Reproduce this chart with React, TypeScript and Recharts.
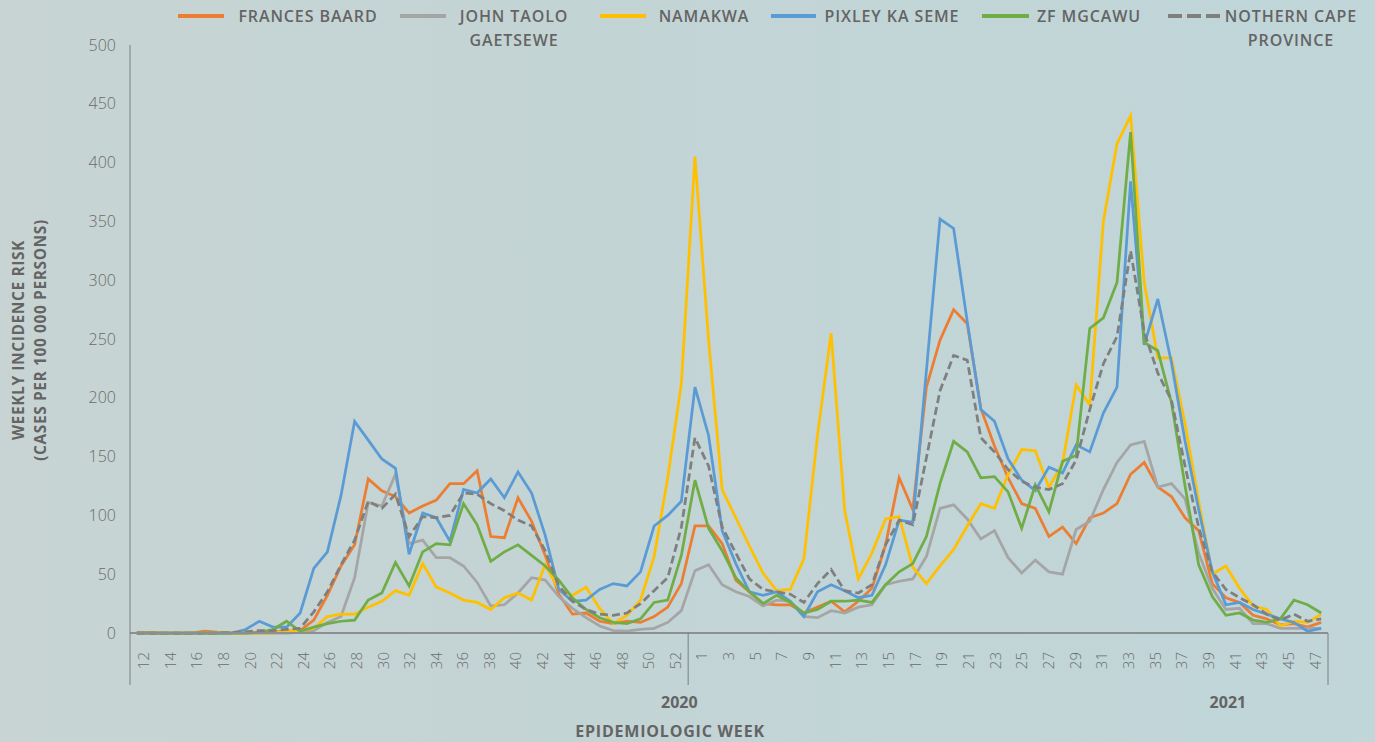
import React from 'react';
import { LineChart, Line, XAxis, YAxis } from 'recharts';

// ---- categories (epidemiologic weeks) ----
const WEEKS_2020 = [12, 13, 14, 15, 16, 17, 18, 19, 20, 21, 22, 23, 24, 25, 26, 27, 28, 29, 30, 31, 32, 33, 34, 35, 36, 37, 38, 39, 40, 41, 42, 43, 44, 45, 46, 47, 48, 49, 50, 51, 52];
const WEEKS_2021 = [1, 2, 3, 4, 5, 6, 7, 8, 9, 10, 11, 12, 13, 14, 15, 16, 17, 18, 19, 20, 21, 22, 23, 24, 25, 26, 27, 28, 29, 30, 31, 32, 33, 34, 35, 36, 37, 38, 39, 40, 41, 42, 43, 44, 45, 46, 47];
const YEAR_LABELS = ['2020', '2021'];
const Y_TICKS = [0, 50, 100, 150, 200, 250, 300, 350, 400, 450, 500];

// ---- series values (weekly incidence risk per 100 000) ----
const FRANCES_BAARD_2020 = [0.5, 0.5, 0, 0, 0, 1.5, 0.5, 0, 0, 0.5, 1, 1.5, 2, 11, 32, 57, 75, 131, 121, 116, 102, 108, 113, 127, 127, 138, 82, 81, 115, 95, 66, 33, 16, 17, 10, 8, 10, 9, 14, 22, 42];
const FRANCES_BAARD_2021 = [91, 91, 76, 45, 35, 25, 24, 24, 17, 22, 27, 18, 27, 38, 75, 132, 105, 209, 249, 275, 263, 191, 159, 132, 110, 106, 82, 90, 76, 98, 102, 110, 135, 145, 124, 116, 98, 87, 42, 30, 26, 15, 12, 7, 8, 5, 9];

const JOHN_TAOLO_2020 = [0, 0, 0, 0, 0, 0, 0, 0, 0, 0, 0, 0, 0.5, 2, 9, 14, 47, 111, 108, 135, 76, 79, 64, 64, 57, 43, 23, 24, 34, 47, 45, 31, 21, 13, 6, 2, 1.5, 3, 4, 9, 19];
const JOHN_TAOLO_2021 = [53, 58, 41, 35, 31, 23, 28, 27, 14, 13, 19, 17, 22, 24, 41, 44, 46, 65, 106, 109, 97, 80, 87, 64, 51, 62, 52, 50, 88, 95, 122, 145, 160, 163, 124, 127, 114, 68, 38, 20, 21, 8, 8, 4, 4, 4, 4];

const NAMAKWA_2020 = [0, 0, 0, 0, 0, 0, 0, 0, 0, 0, 0, 1.5, 1.5, 4, 14, 16, 16, 22, 27, 36, 32, 59, 39, 34, 28, 26, 20, 30, 34, 28, 58, 37, 32, 39, 21, 8, 15, 28, 65, 132, 212];
const NAMAKWA_2021 = [405, 249, 122, 98, 74, 51, 36, 37, 63, 168, 255, 104, 46, 68, 97, 99, 56, 42, 57, 71, 91, 110, 106, 135, 156, 155, 124, 144, 211, 194, 350, 416, 440, 298, 234, 234, 178, 112, 50, 57, 38, 23, 20, 6, 10, 9, 16];

const PIXLEY_2020 = [0, 0, 0, 0, 0, 0, 0, 0, 3, 10, 5, 5, 17, 55, 69, 117, 180, 164, 148, 140, 67, 102, 98, 78, 122, 119, 131, 115, 137, 119, 83, 37, 27, 28, 37, 42, 40, 52, 91, 100, 112];
const PIXLEY_2021 = [209, 168, 87, 59, 35, 32, 35, 27, 14, 35, 41, 36, 30, 32, 58, 96, 94, 223, 352, 344, 265, 190, 180, 148, 130, 121, 141, 136, 160, 154, 187, 209, 384, 245, 284, 230, 163, 105, 52, 24, 26, 20, 16, 12, 9, 1.5, 4];

const ZF_MGCAWU_2020 = [0, 0, 0, 0, 0, 0, 0, 0, 0, 0.5, 3, 10, 1.5, 5, 8, 10, 11, 28, 34, 60, 40, 69, 76, 75, 110, 92, 61, 69, 75, 66, 57, 45, 30, 20, 13, 9, 8, 12, 26, 28, 66];
const ZF_MGCAWU_2021 = [130, 89, 70, 47, 35, 25, 32, 26, 17, 20, 27, 27, 28, 26, 41, 52, 59, 82, 127, 163, 154, 132, 133, 120, 89, 126, 103, 146, 151, 259, 268, 298, 426, 247, 240, 196, 125, 58, 31, 15, 17, 11, 9, 12, 28, 24, 17];

const NORTHERN_CAPE_2020 = [0, 0, 0, 0, 0, 0, 0, 0.5, 1, 2, 2, 3, 4, 18, 35, 58, 79, 112, 106, 118, 82, 99, 98, 100, 119, 118, 110, 104, 96, 91, 70, 40, 27, 20, 16, 15, 17, 25, 36, 47, 90];
const NORTHERN_CAPE_2021 = [166, 142, 90, 68, 46, 37, 35, 33, 26, 42, 54, 36, 34, 41, 75, 96, 92, 149, 206, 236, 232, 166, 154, 139, 129, 124, 122, 127, 147, 190, 229, 252, 325, 256, 221, 198, 142, 90, 52, 37, 30, 24, 16, 11, 16, 10, 12];

const SERIES = [
  { key: 'fb', lines: ['FRANCES BAARD'], color: '#ED7D31', dash: undefined as string | undefined, a: FRANCES_BAARD_2020, b: FRANCES_BAARD_2021 },
  { key: 'jt', lines: ['JOHN TAOLO', 'GAETSEWE'], color: '#A5A5A5', dash: undefined, a: JOHN_TAOLO_2020, b: JOHN_TAOLO_2021 },
  { key: 'nk', lines: ['NAMAKWA'], color: '#FFC000', dash: undefined, a: NAMAKWA_2020, b: NAMAKWA_2021 },
  { key: 'pk', lines: ['PIXLEY KA SEME'], color: '#5B9BD5', dash: undefined, a: PIXLEY_2020, b: PIXLEY_2021 },
  { key: 'zf', lines: ['ZF MGCAWU'], color: '#70AD47', dash: undefined, a: ZF_MGCAWU_2020, b: ZF_MGCAWU_2021 },
  { key: 'nc', lines: ['NOTHERN CAPE', 'PROVINCE'], color: '#7F7F7F', dash: '8 4', a: NORTHERN_CAPE_2020, b: NORTHERN_CAPE_2021 },
];

type Row = { cat: string; week: number; [k: string]: any };
const DATA: Row[] = [
  ...WEEKS_2020.map((w, j) => {
    const r: Row = { cat: `2020-${w}`, week: w };
    SERIES.forEach((s) => (r[s.key] = s.a[j]));
    return r;
  }),
  ...WEEKS_2021.map((w, j) => {
    const r: Row = { cat: `2021-${w}`, week: w };
    SERIES.forEach((s) => (r[s.key] = s.b[j]));
    return r;
  }),
];

// ---- layout ----
const W = 1375;
const H = 742;
const M_TOP = 45;
const M_RIGHT = 47;
const Y_AXIS_W = 130;
const X_AXIS_H = 109;
const PLOT_W = W - M_RIGHT - Y_AXIS_W;
const N = DATA.length;
const BW = PLOT_W / N;
const AXIS_Y = H - X_AXIS_H;
const TEXT = '#6b6b6b';
const TITLE = '#646464';
const FONT = "'Open Sans', 'Noto Sans', sans-serif";

const WeekTick = (props: any) => {
  const { x, index } = props;
  const n20 = WEEKS_2020.length;
  const first = index < n20;
  const k = first ? index : index - n20;
  const n = first ? n20 : WEEKS_2021.length;
  const groupStart = x - (k + 0.5) * BW;
  const els: any[] = [];
  if (k % 2 === 0) {
    const m = Math.ceil(n / 2);
    const slot = (n * BW) / m;
    const lx = groupStart + (k / 2 + 0.5) * slot;
    const ly = AXIS_Y + 19;
    els.push(
      <text key="t" x={lx} y={ly} transform={`rotate(-90 ${lx} ${ly})`} textAnchor="end" dominantBaseline="central" fontSize={15} fill={TEXT} fontFamily={FONT} fontWeight={300}>
        {DATA[index].week}
      </text>
    );
  }
  const sep = (sx: number, key: string) => (
    <line key={key} x1={sx} x2={sx} y1={AXIS_Y} y2={AXIS_Y + 52} stroke="#7d7f80" strokeWidth={1} />
  );
  if (k === 0) els.push(sep(groupStart, 's0'));
  if (index === N - 1) els.push(sep(x + BW / 2, 's1'));
  if (index === n20 - 1) {
    els.push(
      <text key="y" x={x - 2} y={AXIS_Y + 69} textAnchor="middle" dominantBaseline="central" fontSize={16} fontWeight={700} fill={TITLE} fontFamily={FONT}>
        {YEAR_LABELS[0]}
      </text>
    );
  }
  if (first === false && k === 39) {
    els.push(
      <text key="y2" x={x + 2} y={AXIS_Y + 69} textAnchor="middle" dominantBaseline="central" fontSize={16} fontWeight={700} fill={TITLE} fontFamily={FONT}>
        {YEAR_LABELS[1]}
      </text>
    );
  }
  return <g>{els}</g>;
};

const LEGEND_POS = [
  { x1: 178, x2: 224, cx: 308 },
  { x1: 400, x2: 446, cx: 514 },
  { x1: 600, x2: 646, cx: 704 },
  { x1: 771, x2: 816, cx: 892 },
  { x1: 982, x2: 1029, cx: 1089 },
  { x1: 1168, x2: 1221, cx: 1291 },
];

export default function App() {
  return (
    <div
      style={{
        position: 'absolute',
        left: 0,
        top: 0,
        width: W,
        height: H,
        background: 'linear-gradient(90deg, #c7d4d3 0%, #c3d4d5 45%, #c0d6d9 100%)',
        fontFamily: FONT,
      }}
    >
      <LineChart width={W} height={H} data={DATA} margin={{ top: M_TOP, right: M_RIGHT, bottom: 0, left: 0 }}>
        <XAxis
          dataKey="cat"
          interval={0}
          height={X_AXIS_H}
          tickLine={false}
          axisLine={{ stroke: '#8b8f90', strokeWidth: 2 }}
          padding={{ left: BW / 2, right: BW / 2 }}
          tick={<WeekTick />}
        />
        <YAxis
          width={Y_AXIS_W}
          domain={[0, 500]}
          ticks={Y_TICKS}
          interval={0}
          tickLine={false}
          tickMargin={8}
          axisLine={{ stroke: '#7d7f80', strokeWidth: 1 }}
          tick={{ fill: TEXT, fontSize: 16, fontFamily: FONT, fontWeight: 300 }}
        />
        {SERIES.map((s) => (
          <Line
            key={s.key}
            dataKey={s.key}
            type="linear"
            stroke={s.color}
            strokeWidth={2.75}
            strokeDasharray={s.dash}
            dot={false}
            activeDot={false}
            isAnimationActive={false}
          />
        ))}
      </LineChart>
      <svg width={W} height={H} style={{ position: 'absolute', left: 0, top: 0, pointerEvents: 'none' }}>
        {SERIES.map((s, i) => {
          const p = LEGEND_POS[i];
          return (
            <g key={s.key}>
              <line x1={p.x1} x2={p.x2} y1={16} y2={16} stroke={s.color} strokeWidth={4} strokeDasharray={s.dash ? '14 5' : undefined} />
              {s.lines.map((t, li) => (
                <text key={li} x={p.cx} y={16 + li * 24} textAnchor="middle" dominantBaseline="central" fontSize={16} letterSpacing={0.9} fontWeight={600} fill={TITLE} fontFamily={FONT}>
                  {t}
                </text>
              ))}
            </g>
          );
        })}
        <text x={670} y={731} textAnchor="middle" dominantBaseline="central" fontSize={16} letterSpacing={0.8} fontWeight={700} fill={TITLE} fontFamily={FONT}>
          EPIDEMIOLOGIC WEEK
        </text>
        <g transform="rotate(-90 0 0)">
          <text x={-340} y={18} textAnchor="middle" dominantBaseline="central" fontSize={15.5} letterSpacing={0.6} fontWeight={700} fill={TITLE} fontFamily={FONT}>
            WEEKLY INCIDENCE RISK
          </text>
          <text x={-340} y={40} textAnchor="middle" dominantBaseline="central" fontSize={15.5} letterSpacing={0.6} fontWeight={700} fill={TITLE} fontFamily={FONT}>
            (CASES PER 100 000 PERSONS)
          </text>
        </g>
      </svg>
    </div>
  );
}
